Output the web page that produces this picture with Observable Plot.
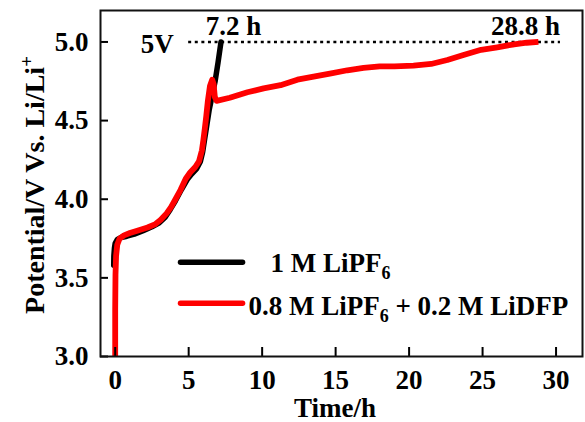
<!DOCTYPE html>
<html><head><meta charset="utf-8">
<script src="https://cdn.jsdelivr.net/npm/d3@7"></script>
<script src="https://cdn.jsdelivr.net/npm/@observablehq/plot@0.6"></script>
<style>html,body{margin:0;padding:0;background:#fff}</style>
</head><body><div id="chart"></div>
<script>
// ---- data ----
const seriesNames = ["1 M LiPF6", "0.8 M LiPF6 + 0.2 M LiDFP"];
const seriesColors = ["#000000", "#ff0000"];

const timeBlack = [-0.1, -0.09, -0.05, 0.0, 0.15, 0.4, 0.8, 1.3, 1.9, 2.5, 3.0, 3.4, 3.75, 4.1, 4.5, 4.9, 5.2, 5.55, 5.8, 5.95, 6.1, 6.25, 6.4, 6.6, 6.8, 7.0, 7.2];
const potentialBlack = [3.58, 3.64, 3.69, 3.72, 3.745, 3.757, 3.765, 3.778, 3.80, 3.825, 3.85, 3.885, 3.935, 3.99, 4.06, 4.125, 4.16, 4.195, 4.24, 4.30, 4.39, 4.48, 4.57, 4.66, 4.75, 4.87, 5.0];

const timeRed = [0.0, 0.0, 0.02, 0.06, 0.14, 0.3, 0.6, 1.0, 1.5, 2.2, 2.7, 3.1, 3.5, 3.8, 4.1, 4.45, 4.8, 5.1, 5.45, 5.7, 5.9, 6.0, 6.1, 6.2, 6.3, 6.45, 6.6, 6.7, 6.78, 6.9, 7.8, 9.0, 10.1, 11.25, 12.4, 13.5, 14.7, 15.8, 16.9, 18.0, 19.0, 20.3, 21.5, 22.6, 23.7, 24.9, 26.0, 27.15, 28.0, 28.8];
const potentialRed = [3.0, 3.3, 3.52, 3.64, 3.71, 3.75, 3.77, 3.785, 3.80, 3.82, 3.84, 3.87, 3.91, 3.95, 4.0, 4.06, 4.13, 4.17, 4.205, 4.24, 4.31, 4.376, 4.45, 4.53, 4.62, 4.72, 4.76, 4.73, 4.65, 4.625, 4.645, 4.68, 4.705, 4.725, 4.76, 4.78, 4.80, 4.82, 4.835, 4.845, 4.845, 4.85, 4.86, 4.885, 4.917, 4.95, 4.966, 4.985, 4.995, 5.0];

const xTicks = [0, 5, 10, 15, 20, 25, 30];
const yTicks = [3.0, 3.5, 4.0, 4.5, 5.0];
const cutoffV = 5.0;
const cutoffLabel = "5V";
const cutoffRange = [5.0, 30.3];
const endTimes = [7.2, 28.8];
const endLabels = ["7.2 h", "28.8 h"];
const xLabel = "Time/h";
const yLabel = "Potential/V Vs. Li/Li+";

const black = timeBlack.map((t, i) => ({t, v: potentialBlack[i]}));
const red = timeRed.map((t, i) => ({t, v: potentialRed[i]}));

const chart = Plot.plot({
  width: 585,
  height: 422,
  marginLeft: 100,
  marginRight: 3,
  marginTop: 10,
  marginBottom: 66,
  style: {fontFamily: "'Liberation Serif', 'Times New Roman', serif", fontWeight: "bold", fontSize: "27px", color: "#000", background: "#fff"},
  x: {domain: [-1, 31.8]},
  y: {domain: [3.0, 5.2]},
  marks: [
    Plot.ruleY([cutoffV], {x1: cutoffRange[0], x2: cutoffRange[1], stroke: "#000", strokeWidth: 2.5, strokeDasharray: "3,3.6"}),
    Plot.line(black, {x: "t", y: "v", stroke: seriesColors[0], strokeWidth: 5.5, strokeLinejoin: "round", strokeLinecap: "round"}),
    Plot.line(red, {x: "t", y: "v", stroke: seriesColors[1], strokeWidth: 5.8, strokeLinejoin: "round", strokeLinecap: "butt"}),
    Plot.text([cutoffLabel], {x: cutoffRange[0], y: cutoffV, text: d => d, textAnchor: "end", lineAnchor: "middle", dx: -15, dy: 2}),
    Plot.text([endLabels[0]], {x: endTimes[0], y: cutoffV, text: d => d, textAnchor: "middle", lineAnchor: "bottom", dx: 12.5, dy: -7}),
    Plot.text([endLabels[1]], {x: endTimes[1], y: cutoffV, text: d => d, textAnchor: "middle", lineAnchor: "bottom", dx: -13, dy: -7}),
    // legend
    Plot.ruleY([3.599], {x1: 4.48, x2: 8.7, stroke: seriesColors[0], strokeWidth: 5.5, strokeLinecap: "round"}),
    Plot.ruleY([3.338], {x1: 4.48, x2: 8.7, stroke: seriesColors[1], strokeWidth: 5.5, strokeLinecap: "round"}),
    Plot.text([seriesNames[0]], {x: 10.57, y: 3.535, text: d => d, textAnchor: "start", lineAnchor: "bottom"}),
    Plot.text([seriesNames[1]], {x: 9.07, y: 3.261, text: d => d, textAnchor: "start", lineAnchor: "bottom"}),
    // axes
    Plot.axisX(xTicks, {tickSize: 0, tickPadding: 13, tickFormat: d => String(d), label: null}),
    Plot.axisX(xTicks, {tickSize: -9, tickFormat: () => "", strokeWidth: 2, label: null}),
    Plot.axisY(yTicks, {tickSize: 0, tickPadding: 12, tickFormat: d3.format(".1f"), label: null}),
    Plot.axisY(yTicks, {tickSize: -8, tickFormat: () => "", strokeWidth: 2, label: null}),
    Plot.text([xLabel], {frameAnchor: "bottom", text: d => d, textAnchor: "middle", lineAnchor: "bottom", dx: -6.5, dy: 60}),
    Plot.text([yLabel], {frameAnchor: "left", text: d => d, rotate: -90, textAnchor: "middle", lineAnchor: "bottom", fontSize: 28, dx: -57, dy: 1.5}),
    Plot.frame({stroke: "#111", strokeWidth: 2})
  ]
});
document.getElementById("chart").appendChild(chart);

// rich text: subscript 6 in LiPF6, superscript + in Li+
const NS = "http://www.w3.org/2000/svg";
function setRich(el, tokens) {
  el.textContent = "";
  let shift = 0;
  for (const tok of tokens) {
    const ts = document.createElementNS(NS, "tspan");
    let target = 0;
    if (tok.sub) { target = 7; ts.setAttribute("font-size", "18"); }
    if (tok.sup) { target = -11; ts.setAttribute("font-size", "19"); }
    ts.setAttribute("dy", String(target - shift));
    shift = target;
    ts.textContent = tok.t;
    el.appendChild(ts);
  }
}
chart.querySelectorAll("text").forEach(el => {
  const s = el.textContent;
  if (s.includes("LiPF6")) {
    const idx = s.indexOf("LiPF6") + 4;
    setRich(el, [{t: s.slice(0, idx)}, {t: "6", sub: true}, {t: s.slice(idx + 1)}].filter(d => d.t.length));
  } else if (s.endsWith("Li+")) {
    setRich(el, [{t: s.slice(0, -1)}, {t: "+", sup: true}]);
  }
});
</script>
</body></html>
